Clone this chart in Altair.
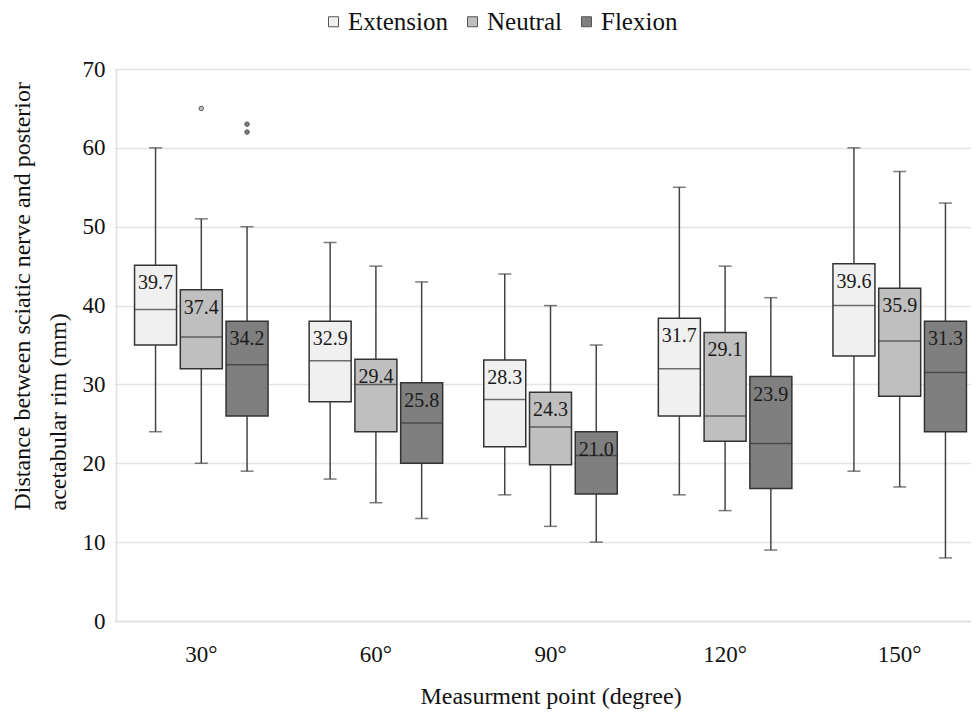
import altair as alt
import pandas as pd

categories = ["30°", "60°", "90°", "120°", "150°"]
groups = ["Extension", "Neutral", "Flexion"]
fills = ["#f0f0f0", "#bfbfbf", "#7f7f7f"]

ext_lower = [24, 18, 16, 16, 19]
ext_q1 = [35.0, 27.8, 22.1, 26.0, 33.6]
ext_median = [39.5, 33.0, 28.1, 32.0, 40.0]
ext_q3 = [45.1, 38.0, 33.1, 38.4, 45.3]
ext_upper = [60, 48, 44, 55, 60]
ext_mean = [39.7, 32.9, 28.3, 31.7, 39.6]

neu_lower = [20, 15, 12, 14, 17]
neu_q1 = [32.0, 24.0, 19.8, 22.8, 28.5]
neu_median = [36.0, 30.0, 24.6, 26.0, 35.5]
neu_q3 = [42.0, 33.2, 29.0, 36.6, 42.2]
neu_upper = [51, 45, 40, 45, 57]
neu_mean = [37.4, 29.4, 24.3, 29.1, 35.9]

flx_lower = [19, 13, 10, 9, 8]
flx_q1 = [26.0, 20.0, 16.1, 16.8, 24.0]
flx_median = [32.5, 25.1, 21.0, 22.5, 31.5]
flx_q3 = [38.0, 30.2, 24.0, 31.0, 38.0]
flx_upper = [50, 43, 35, 41, 53]
flx_mean = [34.2, 25.8, 21.0, 23.9, 31.3]

outlier_cat = ["30°", "30°", "30°"]
outlier_group = ["Neutral", "Flexion", "Flexion"]
outlier_value = [65, 63, 62]

stats = {
    "Extension": (ext_lower, ext_q1, ext_median, ext_q3, ext_upper, ext_mean),
    "Neutral": (neu_lower, neu_q1, neu_median, neu_q3, neu_upper, neu_mean),
    "Flexion": (flx_lower, flx_q1, flx_median, flx_q3, flx_upper, flx_mean),
}
rows = []
for g in groups:
    lo, q1, md, q3, up, mn = stats[g]
    for i, c in enumerate(categories):
        rows.append({"cat": c, "group": g, "lower": lo[i], "q1": q1[i],
                     "median": md[i], "q3": q3[i], "upper": up[i],
                     "mean": mn[i], "label": f"{mn[i]:.1f}"})
df = pd.DataFrame(rows)
odf = pd.DataFrame({"cat": outlier_cat, "group": outlier_group, "value": outlier_value})

FONT = "Liberation Serif"

x = alt.X("cat:N", sort=categories,
          scale=alt.Scale(range=[-2, 871], paddingInner=0, paddingOuter=0),
          axis=alt.Axis(title="Measurment point (degree)", labelAngle=0, ticks=False,
                        grid=False, labelPadding=22, titlePadding=18,
                        domainColor="#dedede", domainWidth=1.5,
                        labelFont=FONT, labelFontSize=23, labelColor="#111",
                        titleFont=FONT, titleFontSize=24, titleColor="#111",
                        titleFontWeight="normal"))
xo = alt.XOffset("group:N", sort=groups,
                 scale=alt.Scale(paddingInner=0.082, paddingOuter=0.449))
yscale = alt.Scale(domain=[0, 70], nice=False)
yaxis = alt.Axis(title=["Distance between sciatic nerve and posterior", "acetabular rim (mm)"],
                 values=list(range(0, 71, 10)), ticks=False, labelPadding=11,
                 domainColor="#dedede", domainWidth=1.5, gridColor="#e4e4e4", gridWidth=1.5,
                 titleX=-82, titleY=441, titleBaseline="bottom", titleLineHeight=36,
                 titleAngle=270, titleAlign="left",
                 labelFont=FONT, labelFontSize=23, labelColor="#111",
                 titleFont=FONT, titleFontSize=24, titleColor="#111",
                 titleFontWeight="normal")

fill_enc = alt.Fill("group:N", sort=groups,
                    scale=alt.Scale(domain=groups, range=fills),
                    legend=alt.Legend(title=None, orient="none", direction="horizontal",
                                      legendX=205, legendY=-60, symbolType="square",
                                      symbolSize=100, symbolStrokeColor="#555",
                                      symbolStrokeWidth=1, labelFont=FONT,
                                      labelFontSize=25, labelColor="#111",
                                      labelOffset=2, columnPadding=12, padding=0))

base = alt.Chart(df)

whisk = base.mark_rule(color="#444", strokeWidth=1.5).encode(
    x=x, xOffset=xo, y=alt.Y("lower:Q", scale=yscale, axis=yaxis), y2="upper:Q")
cap_lo = base.mark_tick(color="#444", size=13, thickness=1.5).encode(
    x=x, xOffset=xo, y=alt.Y("lower:Q", scale=yscale))
cap_hi = base.mark_tick(color="#444", size=13, thickness=1.5).encode(
    x=x, xOffset=xo, y=alt.Y("upper:Q", scale=yscale))
boxes = base.mark_bar(stroke="#333", strokeWidth=1.5).encode(
    x=x, xOffset=xo, y=alt.Y("q1:Q", scale=yscale), y2="q3:Q", fill=fill_enc)
med = base.mark_tick(color="#333", size=42, thickness=1.5).encode(
    x=x, xOffset=xo, y=alt.Y("median:Q", scale=yscale))
labels = base.mark_text(font=FONT, fontSize=20, color="#1a1a1a", baseline="middle",
                        dy=18).encode(
    x=x, xOffset=xo, y=alt.Y("q3:Q", scale=yscale), text="label:N")
outl = alt.Chart(odf).mark_point(filled=True, size=20, stroke="#555", strokeWidth=1,
                                 opacity=1, shape="circle").encode(
    x=x, xOffset=xo, y=alt.Y("value:Q", scale=yscale),
    fill=alt.Fill("group:N", sort=groups, scale=alt.Scale(domain=groups, range=fills),
                  legend=None))

chart = alt.layer(whisk, cap_lo, cap_hi, boxes, med, labels, outl).properties(
    width=855, height=552,
    background="white",
    autosize=alt.AutoSizeParams(type="none"),
    padding={"left": 108, "top": 61, "right": 0, "bottom": 88},
).configure_view(stroke=None)

chart.save("out.html", embed_options={"renderer": "svg", "actions": False})
